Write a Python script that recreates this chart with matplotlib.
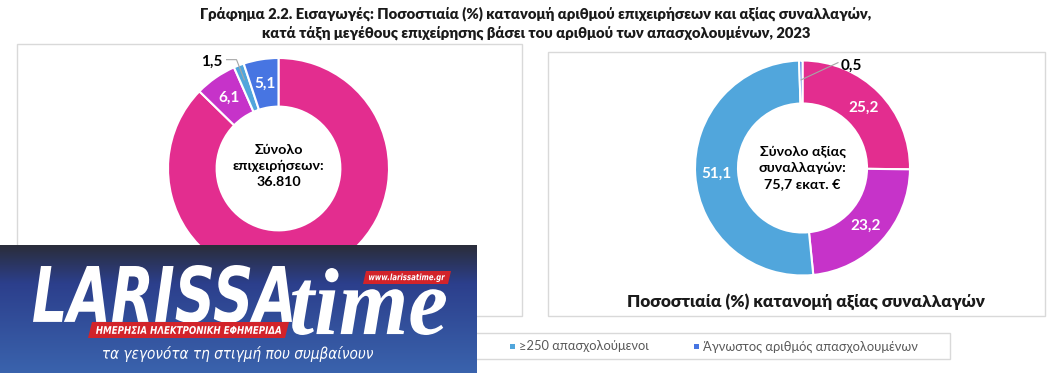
import numpy as np
import matplotlib
matplotlib.use('Agg')
import matplotlib.pyplot as plt
from matplotlib.patches import Rectangle, Polygon, PathPatch
from matplotlib.textpath import TextPath
from matplotlib.font_manager import FontProperties
from matplotlib.transforms import Affine2D

# ---------------- data ----------------
categories = ['0-49 απασχολούμενοι', '50-249 απασχολούμενοι',
              '≥250 απασχολούμενοι', 'Άγνωστος αριθμός απασχολουμένων']
firms_share = [87.3, 6.1, 1.5, 5.1]
value_share = [25.2, 23.2, 51.1, 0.5]
colors = ['#E32D8F', '#C633C9', '#51A6DC', '#4775E2']
firms_center = 'Σύνολο\nεπιχειρήσεων:\n36.810'
value_center = 'Σύνολο αξίας\nσυναλλαγών:\n75,7 εκατ. €'
title_lines = ['Γράφημα 2.2. Εισαγωγές: Ποσοστιαία (%) κατανομή αριθμού επιχειρήσεων και αξίας συναλλαγών,',
               'κατά τάξη μεγέθους επιχείρησης βάσει του αριθμού των απασχολουμένων, 2023']
right_title = 'Ποσοστιαία (%) κατανομή αξίας συναλλαγών'

W, H = 1062, 373
plt.rcParams['font.family'] = ['Lato', 'DejaVu Sans']

fig = plt.figure(figsize=(W / 100, H / 100), dpi=100)
fig.patch.set_facecolor('white')

bg = fig.add_axes([0, 0, 1, 1], zorder=0)
bg.set_xlim(0, W); bg.set_ylim(H, 0); bg.axis('off')

border = '#d9d9d9'
bg.add_patch(Rectangle((17, 44), 505, 272, facecolor='white', edgecolor=border, lw=1))
bg.add_patch(Rectangle((547.5, 52), 497.5, 264, facecolor='white', edgecolor=border, lw=1))
bg.add_patch(Rectangle((115, 333), 835, 26, facecolor='white', edgecolor=border, lw=1))

for txt, y in zip(title_lines, [14, 33.5]):
    bg.text(536, y, txt, ha='center', va='center', fontsize=10.6, fontweight='heavy', color='#1a1a1a')

bg.text(806, 302, right_title, ha='center', va='center', fontsize=12.3, fontweight='heavy', color='#1a1a1a')


def pie_axes(cx, cy, r):
    a = fig.add_axes([(cx - r) / W, 1 - (cy + r) / H, 2 * r / W, 2 * r / H], zorder=1)
    return a


def mid_angles(vals):
    tot = float(sum(vals))
    cum = np.cumsum([0] + list(vals))[:-1]
    return [np.deg2rad(90 - 360 * (c + v / 2) / tot) for c, v in zip(cum, vals)]


def draw_donut(ax, vals, width):
    ax.pie(vals, colors=colors, startangle=90, counterclock=False, radius=1,
           wedgeprops=dict(width=width, edgecolor='white', linewidth=1.5))
    ax.set_xlim(-1, 1); ax.set_ylim(-1, 1); ax.set_aspect('equal'); ax.axis('off')


LBL = 11

# left donut
axL = pie_axes(278.5, 168.5, 110.5)
draw_donut(axL, firms_share, 0.44)
angL = mid_angles(firms_share)
rmid = 1 - 0.44 / 2
for i in (1, 3):
    axL.text(rmid * np.cos(angL[i]), rmid * np.sin(angL[i]),
             f'{firms_share[i]:.1f}'.replace('.', ','), ha='center', va='center',
             fontsize=LBL, fontweight='bold', color='white')
# small slice label with leader
pt = (0.86 * np.cos(angL[2]), 0.86 * np.sin(angL[2]))
lx, ly = -0.60, 0.965
axL.text(lx, ly, f'{firms_share[2]:.1f}'.replace('.', ','), ha='center', va='center',
         fontsize=LBL, fontweight='bold', color='black')
axL.plot([lx + 0.13, lx + 0.22, pt[0]], [ly + 0.02, ly + 0.02, pt[1]], color='#a6a6a6', lw=0.8,
         clip_on=False)
axL.text(0, 0.02, firms_center, ha='center', va='center', fontsize=10.3, fontweight='bold',
         color='black', linespacing=1.4)

# right donut
axR = pie_axes(802.5, 168, 107.5)
draw_donut(axR, value_share, 0.40)
angR = mid_angles(value_share)
rmid = 1 - 0.40 / 2
for i in (0, 1, 2):
    axR.text(rmid * np.cos(angR[i]), rmid * np.sin(angR[i]),
             f'{value_share[i]:.1f}'.replace('.', ','), ha='center', va='center',
             fontsize=LBL, fontweight='bold', color='white')
pt = (0.82 * np.cos(angR[3]), 0.82 * np.sin(angR[3]))
lx, ly = 0.45, 0.95
axR.text(lx, ly, f'{value_share[3]:.1f}'.replace('.', ','), ha='center', va='center',
         fontsize=LBL, fontweight='bold', color='black')
axR.plot([lx - 0.12, pt[0]], [ly + 0.03, pt[1]], color='#a6a6a6', lw=0.8, clip_on=False)
axR.text(0, 0.0, value_center, ha='center', va='center', fontsize=10.3, fontweight='bold',
         color='black', linespacing=1.4)

# legend (manual)
xs = [140, 330, 519, 703]
for c, lab, x in zip(colors, categories, xs):
    bg.add_patch(Rectangle((x - 9.5, 343.5), 5.5, 5.5, facecolor=c, edgecolor='none'))
    bg.text(x, 346.5, lab, ha='left', va='center', fontsize=9.3, color='#595959')

# ---------------- logo overlay ----------------
lg = fig.add_axes([0, 0, 1, 1], zorder=10)
lg.set_xlim(0, W); lg.set_ylim(H, 0); lg.axis('off')
top = np.array([0x2a, 0x2d, 0x3a]) / 255
mid = np.array([0x2c, 0x3f, 0x8c]) / 255
bot = np.array([0x3a, 0x63, 0xad]) / 255
t = np.linspace(0, 1, 128)[:, None]
grad = np.where(t < 0.3, top + (mid - top) * (t / 0.3), mid + (bot - mid) * ((t - 0.3) / 0.7))
grad = np.repeat(grad[:, None, :], 2, axis=1)
lg.imshow(grad, extent=(0, 477, 373, 245), origin='upper', aspect='auto', zorder=1,
          interpolation='bilinear')


def fit_text(ax, s, box, prop, color, z=3):
    tp = TextPath((0, 0), s, size=100, prop=prop)
    bb = tp.get_extents()
    x0, y0, x1, y1 = box
    tr = Affine2D().translate(-bb.x0, -bb.y0).scale((x1 - x0) / bb.width, -(y1 - y0) / bb.height).translate(x0, y1)
    ax.add_patch(PathPatch(tr.transform_path(tp), facecolor=color, edgecolor='none', zorder=z))


bi = FontProperties(family='DejaVu Sans', weight='bold', style='oblique')
si = FontProperties(family=['Liberation Serif', 'DejaVu Serif'], weight='bold', style='italic')
it = FontProperties(family='DejaVu Sans', style='oblique')
red = '#d2232a'
fit_text(lg, 'LARISSA', (33, 265, 292, 323), bi, 'white')
fit_text(lg, 'time', (292, 268, 446, 335), si, 'white')
lg.add_patch(Polygon([(92, 322), (289, 322), (285, 338), (88, 338)], closed=True, facecolor=red, zorder=4))
fit_text(lg, 'ΗΜΕΡΗΣΙΑ ΗΛΕΚΤΡΟΝΙΚΗ ΕΦΗΜΕΡΙΔΑ', (96, 326, 281, 334), bi, 'white', 5)
lg.add_patch(Polygon([(366, 271), (451, 271), (448, 284), (363, 284)], closed=True, facecolor=red, zorder=4))
fit_text(lg, 'www.larissatime.gr', (369, 273.5, 445, 282), bi, 'white', 5)
fit_text(lg, 'τα γεγονότα τη στιγμή που συμβαίνουν', (103, 346, 373, 362), it, 'white')

fig.savefig('out.png', dpi=100, facecolor='white')
